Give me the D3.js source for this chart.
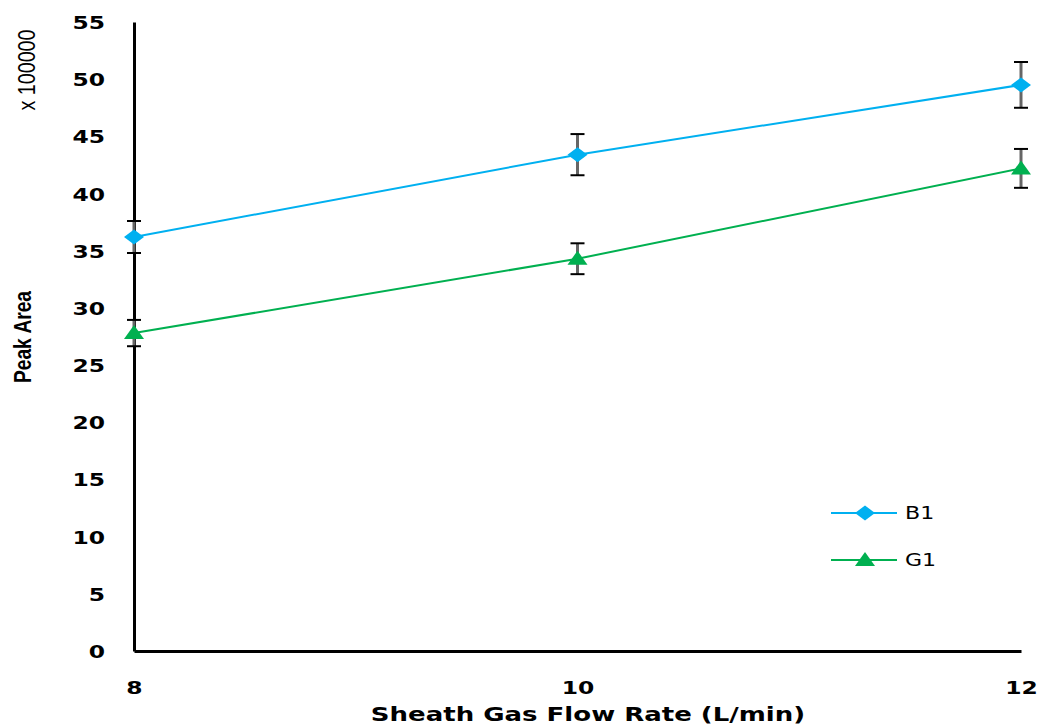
<!DOCTYPE html>
<html>
<head>
<meta charset="utf-8">
<script src="https://cdn.jsdelivr.net/npm/d3@7"></script>
<style>
  html, body { margin: 0; padding: 0; background: #fff; }
  svg { display: block; }
</style>
</head>
<body>
<svg id="chart" width="1040" height="727"></svg>
<script>
// Sheath gas flow rate (L/min)
const flowRates = [8, 10, 12];
// Peak area (x 100000) with standard deviations
const b1Values = [36.2, 43.4, 49.5];
const b1Errors = [1.4, 1.8, 2.0];
const g1Values = [27.8, 34.3, 42.2];
const g1Errors = [1.15, 1.35, 1.7];
const yTicks = [0, 5, 10, 15, 20, 25, 30, 35, 40, 45, 50, 55];
const xTicks = [8, 10, 12];
const seriesNames = ["B1", "G1"];

const series = [
  { name: seriesNames[0], values: b1Values, errors: b1Errors, color: "#00B0F0", marker: "diamond" },
  { name: seriesNames[1], values: g1Values, errors: g1Errors, color: "#00B050", marker: "triangle" }
];

const svg = d3.select("#chart");
const x = d3.scaleLinear().domain([8, 12]).range([134, 1021]);
const y = d3.scaleLinear().domain([0, 55]).range([651, 22]);

const tickFont = "'DejaVu Sans', Verdana, sans-serif";
const narrowFont = "'Liberation Sans Narrow', 'Liberation Sans', Arial, sans-serif";

// Y axis
const yAxis = svg.append("g")
  .attr("transform", `translate(${x(8)},0)`)
  .call(d3.axisLeft(y).tickValues(yTicks).tickSize(0).tickSizeOuter(0));
yAxis.select(".domain").attr("stroke", "#000").attr("stroke-width", 3);
yAxis.selectAll("text")
  .attr("x", 0)
  .attr("dy", "0.36em")
  .attr("transform", "translate(-29,0) scale(1.3,1)")
  .attr("font-family", tickFont)
  .attr("font-weight", "bold")
  .attr("font-size", 18)
  .attr("fill", "#000");

// X axis
const xAxis = svg.append("g")
  .attr("transform", `translate(0,${y(0)})`)
  .call(d3.axisBottom(x).tickValues(xTicks).tickSize(0).tickSizeOuter(0).tickFormat(d3.format("d")));
xAxis.select(".domain").attr("stroke", "#000").attr("stroke-width", 3);
xAxis.selectAll("text")
  .attr("y", 0)
  .attr("dy", 0)
  .attr("transform", "translate(0,43) scale(1.3,1)")
  .attr("font-family", tickFont)
  .attr("font-weight", "bold")
  .attr("font-size", 18)
  .attr("fill", "#000");

// Axis titles
svg.append("text")
  .attr("transform", "translate(588,721) scale(1.3,1)")
  .attr("text-anchor", "middle")
  .attr("font-family", tickFont)
  .attr("font-weight", "bold")
  .attr("font-size", 20)
  .attr("fill", "#000")
  .text("Sheath Gas Flow Rate (L/min)");

svg.append("text")
  .attr("transform", "translate(31,337) rotate(-90) scale(0.8,1)")
  .attr("text-anchor", "middle")
  .attr("font-family", narrowFont)
  .attr("font-weight", "bold")
  .attr("font-size", 24)
  .attr("fill", "#000")
  .text("Peak Area");

svg.append("text")
  .attr("transform", "translate(35,70) rotate(-90) scale(0.82,1)")
  .attr("text-anchor", "middle")
  .attr("font-family", narrowFont)
  .attr("font-size", 24)
  .attr("fill", "#000")
  .text("x 100000");

// Marker shapes (wider than tall)
function markerPath(type) {
  if (type === "diamond") return "M-10,0L0,-7.5L10,0L0,7.5Z";
  return "M-10,6L0,-8L10,6Z";
}

// Error bars
series.forEach(s => {
  const g = svg.append("g").attr("class", "errors");
  flowRates.forEach((fr, i) => {
    const cx = x(fr);
    const top = y(s.values[i] + s.errors[i]);
    const bot = y(s.values[i] - s.errors[i]);
    g.append("line").attr("x1", cx).attr("x2", cx).attr("y1", top).attr("y2", bot)
      .attr("stroke", "#666").attr("stroke-width", 3);
    [top, bot].forEach(yy => {
      g.append("line").attr("x1", cx - 7).attr("x2", cx + 7).attr("y1", yy).attr("y2", yy)
        .attr("stroke", "#000").attr("stroke-width", 2);
    });
  });
});

// Lines and markers
const line = d3.line().x((d, i) => x(flowRates[i])).y(d => y(d));
series.forEach(s => {
  svg.append("path")
    .datum(s.values)
    .attr("fill", "none")
    .attr("stroke", s.color)
    .attr("stroke-width", 2)
    .attr("d", line);
  svg.selectAll(null)
    .data(s.values)
    .enter().append("path")
    .attr("d", markerPath(s.marker))
    .attr("transform", (d, i) => `translate(${x(flowRates[i])},${y(d)})`)
    .attr("fill", s.color);
});

// Legend
const legend = svg.append("g").attr("transform", "translate(831,513)");
series.forEach((s, i) => {
  const row = legend.append("g").attr("transform", `translate(0,${i * 47})`);
  row.append("line").attr("x1", 0).attr("x2", 66).attr("y1", 0).attr("y2", 0)
    .attr("stroke", s.color).attr("stroke-width", 2);
  row.append("path").attr("d", markerPath(s.marker))
    .attr("transform", "translate(34,0)").attr("fill", s.color);
  row.append("text")
    .attr("transform", "translate(74,0) scale(1.3,1)")
    .attr("dy", "0.36em")
    .attr("font-family", tickFont)
    .attr("font-size", 17)
    .attr("fill", "#000")
    .text(s.name);
});
</script>
</body>
</html>
